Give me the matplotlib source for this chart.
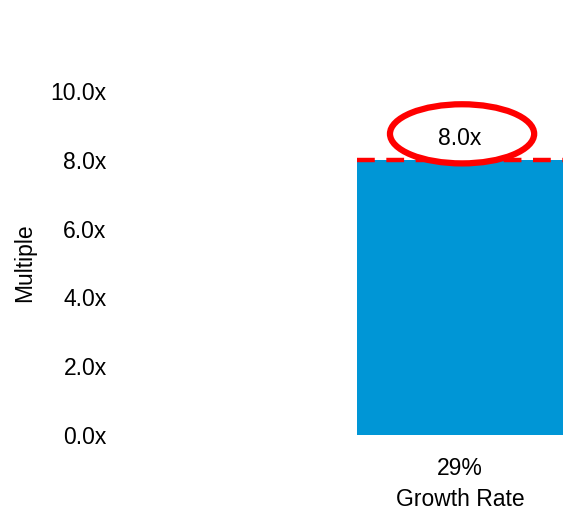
import matplotlib.pyplot as plt
from matplotlib.patches import Ellipse
from matplotlib.ticker import FuncFormatter

plt.rcParams['font.family'] = ['Liberation Sans', 'DejaVu Sans']

# data
categories = ['29%']
multiples = [8.0]
yticks = [0, 2, 4, 6, 8, 10]

fig = plt.figure(figsize=(5.63, 5.12), dpi=100)
ax = fig.add_axes([115 / 563, (512 - 435) / 512, 1 - 115 / 563, (435 - 74) / 512])

x = list(range(len(categories)))
ax.bar(x, multiples, width=0.8, color='#0096d6', zorder=2)

# dashed marker at the bar top, circled value label
for xi, m in zip(x, multiples):
    ax.hlines(m, xi - 0.4, xi + 0.45, colors='#ff0000', linestyles=(0, (4, 2.6)),
              linewidth=3.2, zorder=3)
    ax.add_patch(Ellipse((xi + 0.008, m + 0.76), 0.56, 1.72, facecolor='white',
                         edgecolor='#ff0000', linewidth=4.5, zorder=4))
    ax.text(xi, m + 0.63, f'{m:.1f}x', ha='center', va='center', fontsize=16.5, zorder=5)

ax.set_xlim(-1.34, 0.4)
ax.set_ylim(0, 10.5)
ax.set_xticks(x)
ax.set_xticklabels(categories)
ax.set_yticks(yticks)
ax.yaxis.set_major_formatter(FuncFormatter(lambda v, p: f'{v:.1f}x'))
ax.tick_params(length=0, labelsize=16.5, pad=6)
ax.tick_params(axis='x', pad=16)
ax.set_xlabel('Growth Rate', fontsize=16.5)
ax.xaxis.set_label_coords(1.34 / 1.74, -0.18)
ax.xaxis.label.set_va('center')
fig.text(25 / 563, 1 - 263 / 512, 'Multiple', rotation=90, ha='center', va='center',
         fontsize=16.5)
for s in ax.spines.values():
    s.set_visible(False)

fig.savefig('out.png', dpi=100)
